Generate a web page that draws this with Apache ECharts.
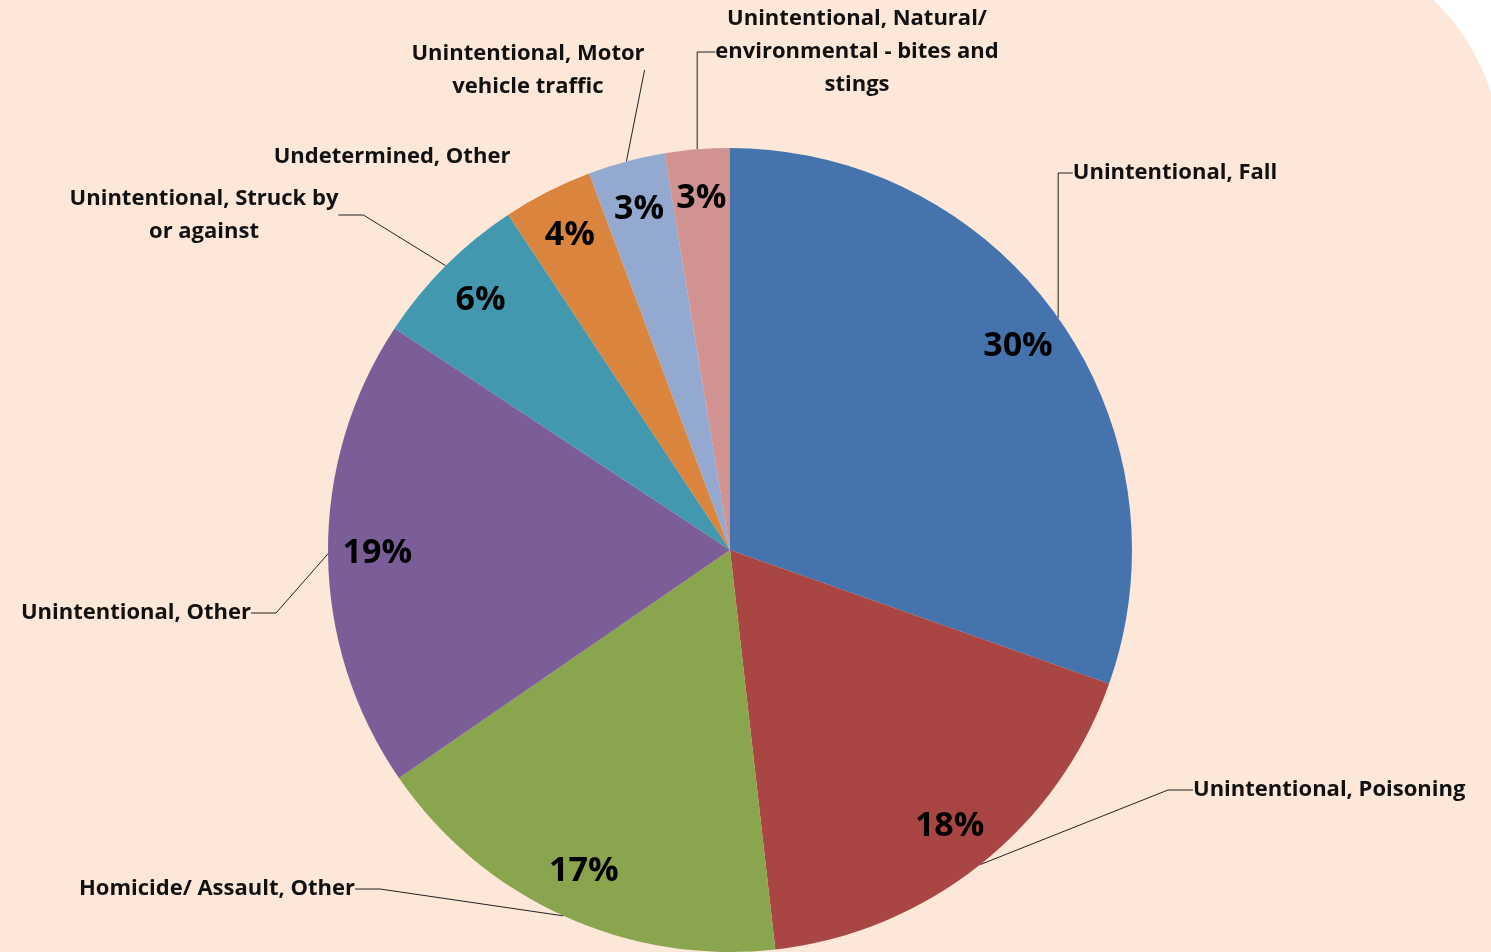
<!DOCTYPE html>
<html>
<head>
<meta charset="utf-8">
<title>Injury deaths by cause</title>
<script src="https://cdn.jsdelivr.net/npm/echarts@6/dist/echarts.min.js"></script>
<style>
  html, body { margin: 0; padding: 0; background: #fff; overflow: hidden; }
  #bg {
    position: absolute; left: 0; top: -60px; right: -10px; bottom: 0;
    background: #fde7d8; border-top-right-radius: 218px;
  }
  #chart { position: absolute; left: 0; top: 0; width: 1491px; height: 952px; }
</style>
</head>
<body>
<div id="bg"></div>
<div id="chart"></div>
<script>
const categories = [
  'Unintentional, Fall',
  'Unintentional, Poisoning',
  'Homicide/ Assault, Other',
  'Unintentional, Other',
  'Unintentional, Struck by\nor against',
  'Undetermined, Other',
  'Unintentional, Motor\nvehicle traffic',
  'Unintentional, Natural/\nenvironmental - bites and\nstings'
]
const shares = [30.4, 17.8, 17.2, 18.9, 6.4, 3.6, 3.1, 2.6]
const sliceColors = ['#4473ad', '#a94543', '#89a54e', '#7b5e98', '#4298af', '#db843d', '#93a9cf', '#d09392']

// where each category name sits (label anchor, align)
const namePlacement = [
  { x: 1175, y: 173, align: 'center' },
  { x: 1193, y: 790, align: 'left' },
  { x: 355, y: 889, align: 'right' },
  { x: 251, y: 613, align: 'right' },
  { x: 204, y: 215, align: 'center' },
  { x: 392, y: 157, align: 'center' },
  { x: 528, y: 70, align: 'center' },
  { x: 857, y: 52, align: 'center' }
]

const center = [730, 550]
const radius = 402
const textFont = "'Open Sans', 'DejaVu Sans', sans-serif"

const chart = echarts.init(document.getElementById('chart'))

const pieData = categories.map((name, i) => ({
  name,
  value: shares[i],
  itemStyle: { color: sliceColors[i] },
  labelLine: { show: i !== 5 }
}))

chart.setOption({
  animation: false,
  series: [
    {
      type: 'pie',
      center,
      radius: [0, radius],
      startAngle: 90,
      data: pieData,
      itemStyle: { borderWidth: 0 },
      label: {
        show: true,
        position: 'outside',
        formatter: '{b}',
        color: '#111',
        fontFamily: textFont,
        fontWeight: 'bold',
        fontSize: 22,
        lineHeight: 33
      },
      labelLine: {
        show: true,
        length: 20,
        length2: 25,
        smooth: false,
        lineStyle: { color: '#222', width: 1 }
      },
      labelLayout: (params) => {
        const p = namePlacement[params.dataIndex]
        return { x: p.x, y: p.y, align: p.align, verticalAlign: 'middle', hideOverlap: false }
      },
      emphasis: { disabled: true }
    },
    {
      type: 'pie',
      center,
      radius: [radius * 0.74, radius],
      startAngle: 90,
      silent: true,
      data: categories.map((name, i) => ({ name, value: shares[i] })),
      itemStyle: { color: 'rgba(0,0,0,0)', borderWidth: 0 },
      label: {
        show: true,
        position: 'inside',
        formatter: (p) => Math.round(p.percent) + '%',
        color: '#000',
        fontFamily: textFont,
        fontWeight: 'bold',
        fontSize: 34
      },
      labelLine: { show: false },
      emphasis: { disabled: true }
    }
  ]
})
</script>
</body>
</html>
